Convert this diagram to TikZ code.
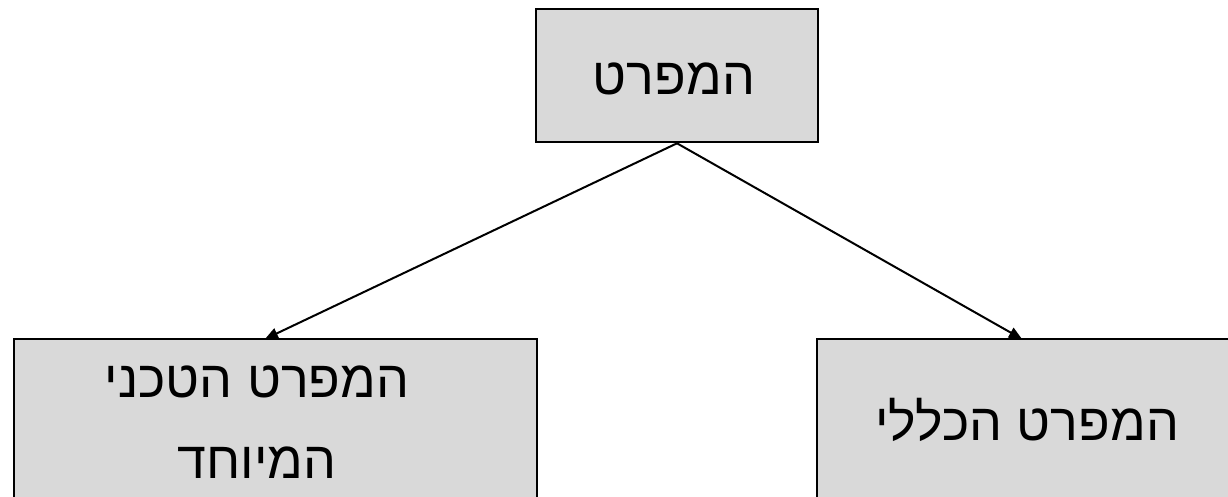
\documentclass[tikz,border=0pt]{standalone}
\usepackage{fontspec}
\newfontfamily\hebfont[Script=Hebrew]{Liberation Sans}
\TeXXeTstate=1
\usetikzlibrary{arrows.meta}
\definecolor{boxfill}{RGB}{217,217,217}
\tikzset{
  box/.style={draw=black, line width=2.6pt, fill=boxfill, rectangle, inner sep=0pt},
  lbl/.style={font=\hebfont\fontsize{52}{81}\selectfont, align=center, inner sep=0pt},
  conn/.style={line width=2pt, -{Triangle[length=13pt,width=11pt]}}
}
\begin{document}
\begin{tikzpicture}[x=1pt,y=-1pt]
\useasboundingbox (0,0) rectangle (1228,496);
\node[box, minimum width=282pt, minimum height=133pt] (top) at (677,75.5) {};
\node[box, minimum width=523pt, minimum height=180pt] (left) at (275.5,429) {};
\node[box, minimum width=423pt, minimum height=180pt] (right) at (1028.5,429) {};
\node[lbl] (toptext) at (674,79) {\beginR המפרט\endR};
\node[lbl] (lefttext) at (257,422) {\beginR המפרט הטכני\endR\\\beginR המיוחד\endR};
\node[lbl] (righttext) at (1027,420) {\beginR המפרט הכללי\endR};
\coordinate (ltip) at (265,339);
\coordinate (rtip) at (1022,339);
\draw[conn] (top.south) -- (ltip);
\draw[conn] (top.south) -- (rtip);
\end{tikzpicture}
\end{document}
